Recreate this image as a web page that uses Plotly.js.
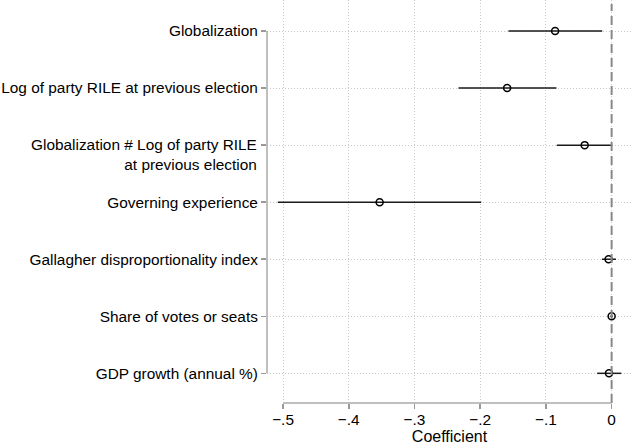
<!DOCTYPE html>
<html>
<head>
<meta charset="utf-8">
<script src="https://cdn.plot.ly/plotly-3.0.1.min.js"></script>
<style>html,body{margin:0;padding:0;background:#fff;}#chart{width:632px;height:448px;}</style>
</head>
<body>
<div id="chart"></div>
<script>
const labels = [
  "Globalization",
  "Log of party RILE at previous election",
  "Globalization # Log of party RILE<br>at previous election",
  "Governing experience",
  "Gallagher disproportionality index",
  "Share of votes or seats",
  "GDP growth (annual %)"
];
const coef  = [-0.086, -0.159, -0.041, -0.353, -0.0046, 0.0, -0.004];
const lower = [-0.157, -0.233, -0.0835, -0.508, -0.0148, -0.002, -0.022];
const upper = [-0.0143, -0.084, 0.001, -0.1985, 0.0066, 0.002, 0.0147];
const xTickVals = [-0.5, -0.4, -0.3, -0.2, -0.1, 0];
const xTickText = ["\u2212.5", "\u2212.4", "\u2212.3", "\u2212.2", "\u2212.1", "0"];

const pos = labels.map((_, i) => i + 1);
const multiIdx = labels.findIndex(l => l.includes("<br>"));
const tickText = labels.map((l, i) => i === multiIdx ? "" : l);

const font = {family: "Liberation Sans, Arial, sans-serif", color: "#000"};
const fs = 15.4;

const trace = {
  type: "scatter", mode: "markers",
  x: coef, y: pos,
  marker: {symbol: "circle-open", size: 7, color: "#000", line: {width: 1.5, color: "#000"}},
  error_x: {
    type: "data", symmetric: false,
    array: upper.map((u, i) => u - coef[i]),
    arrayminus: coef.map((c, i) => c - lower[i]),
    width: 0, thickness: 1.5, color: "#1a1a1a"
  },
  hoverinfo: "skip", showlegend: false, cliponaxis: false
};

const layout = {
  width: 632, height: 448,
  margin: {l: 267, r: 0, t: 0, b: 45},
  paper_bgcolor: "#fff", plot_bgcolor: "#fff",
  font: Object.assign({size: fs}, font),
  xaxis: {
    range: [-0.5244, 0.031], tickvals: xTickVals, ticktext: xTickText,
    showgrid: true, gridcolor: "#c8c8c8", griddash: "1px,2px", gridwidth: 1,
    zeroline: false, showline: false,
    ticks: "outside", ticklen: 5, tickcolor: "#999", tickwidth: 1.5,
    ticklabelstandoff: -2,
    tickfont: Object.assign({size: fs}, font),
    title: {text: "Coefficient", font: Object.assign({size: 16}, font), standoff: 2}
  },
  yaxis: {
    range: [7.52, 0.456], tickvals: pos, ticktext: tickText,
    showgrid: true, gridcolor: "#c8c8c8", griddash: "1px,2px", gridwidth: 1,
    zeroline: false, showline: false,
    ticks: "outside", ticklen: 5, tickcolor: "#999", tickwidth: 1.5,
    tickfont: Object.assign({size: fs}, font)
  },
  shapes: [
    {type: "line", xref: "x", yref: "paper", x0: 0, x1: 0, y0: 0, y1: 0.99,
     line: {color: "#888", width: 2, dash: "9px,5px"}},
    {type: "line", xref: "paper", yref: "y", x0: 0, x1: 0, y0: 1, y1: 7,
     line: {color: "#aaa", width: 1.5}},
    {type: "line", xref: "x", yref: "paper", x0: -0.5, x1: 0, y0: 0, y1: 0,
     line: {color: "#aaa", width: 1.5}}
  ],
  annotations: [
    {xref: "paper", yref: "y", x: 0, y: multiIdx + 1, xanchor: "right", yanchor: "top",
     xshift: -8, yshift: 11, align: "right", showarrow: false,
     text: labels[multiIdx], font: Object.assign({size: fs}, font)}
  ]
};

Plotly.newPlot("chart", [trace], layout, {staticPlot: true, displayModeBar: false});
</script>
</body>
</html>
